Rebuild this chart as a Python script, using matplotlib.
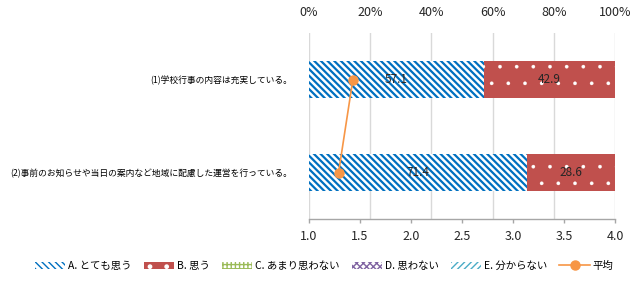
import matplotlib
matplotlib.use('Agg')
import matplotlib.pyplot as plt
import numpy as np

plt.rcParams['font.family'] = ['Noto Sans CJK JP', 'DejaVu Sans']

# 設問
questions = ['(1)学校行事の内容は充実している。',
             '(2)事前のお知らせや当日の案内など地域に配慮した運営を行っている。']
# 回答の割合 (%)
answer_names = ['A. とても思う', 'B. 思う', 'C. あまり思わない', 'D. 思わない', 'E. 分からない']
val_a = [57.1, 71.4]
val_b = [42.9, 28.6]
val_c = [0.0, 0.0]
val_d = [0.0, 0.0]
val_e = [0.0, 0.0]
# 平均 (A=1 ... E=5)
average = [1.43, 1.29]

pct_ticks = [0, 20, 40, 60, 80, 100]
avg_ticks = [1.0, 1.5, 2.0, 2.5, 3.0, 3.5, 4.0]

BS = chr(92)  # バックスラッシュ
styles = [  # facecolor, hatchcolor, hatch, hatch linewidth
    ('white', '#0070C0', BS * 5, 1.6),
    ('#C0504D', 'white', '.', 0.2),
    ('white', '#9BBB59', '++++', 0.9),
    ('white', '#8064A2', 'xxxxx', 0.6),
    ('white', '#4BACC6', '/' * 5, 1.0),
]

fig = plt.figure(figsize=(6.32, 2.83), dpi=100)
ax = fig.add_axes([309 / 632, 1 - 219 / 283, 306 / 632, 186 / 283])

y = np.arange(len(questions))
series = [val_a, val_b, val_c, val_d, val_e]
left = np.zeros(len(questions))
handles = []
for name, vals, (fc, hc, hatch, hlw) in zip(answer_names, series, styles):
    with plt.rc_context({'hatch.linewidth': hlw}):
        bars = ax.barh(y, vals, left=left, height=0.39, color=fc, edgecolor=hc,
                       hatch=hatch, linewidth=0, label=name, zorder=2)
    handles.append(bars)
    for b, v, l in zip(bars, vals, left):
        if v > 0:
            ax.text(l + v / 2, b.get_y() + b.get_height() / 2, '%.1f' % v,
                    ha='center', va='center', fontsize=8.5, color='#262626', zorder=5)
    left = left + np.array(vals)

ax.set_xlim(0, 100)
ax.set_ylim(len(questions) - 0.5, -0.5)
ax.set_yticks(y)
ax.set_yticklabels(questions, fontsize=6.3)
ax.tick_params(axis='y', length=0, pad=12)
ax.grid(axis='x', color='#D9D9D9', linewidth=1, zorder=0)
for s in ['top', 'right', 'left', 'bottom']:
    ax.spines[s].set_visible(False)

ax2 = ax.twiny()
line, = ax2.plot(average, y, color='#F79646', marker='o', markersize=6.5,
                 linewidth=1.2, label='平均', zorder=6)
ax2.set_xlim(1.0, 4.0)
ax2.set_ylim(len(questions) - 0.5, -0.5)
ax2.xaxis.tick_bottom()
ax2.set_xticks(avg_ticks)
ax2.set_xticklabels(['%.1f' % t for t in avg_ticks], fontsize=9)
ax2.tick_params(axis='x', length=3, width=1, color='#A6A6A6', pad=5, labelcolor='#262626')
for s in ['top', 'right', 'left']:
    ax2.spines[s].set_visible(False)
ax2.spines['bottom'].set_color('#A6A6A6')
ax2.spines['bottom'].set_linewidth(1)

# 上側の % 軸 (twiny の後で設定する)
ax.xaxis.tick_top()
ax.set_xticks(pct_ticks)
ax.set_xticklabels(['%d%%' % t for t in pct_ticks], fontsize=9)
ax.tick_params(axis='x', length=0, pad=10, labelcolor='#262626')

fig.legend(handles + [line], answer_names + ['平均'], loc='center',
           bbox_to_anchor=(0.513, 1 - 266 / 283), ncol=6, frameon=False,
           fontsize=7.5, handlelength=2.9, handletextpad=0.3, columnspacing=1.15)

fig.savefig('out.png', dpi=100)
